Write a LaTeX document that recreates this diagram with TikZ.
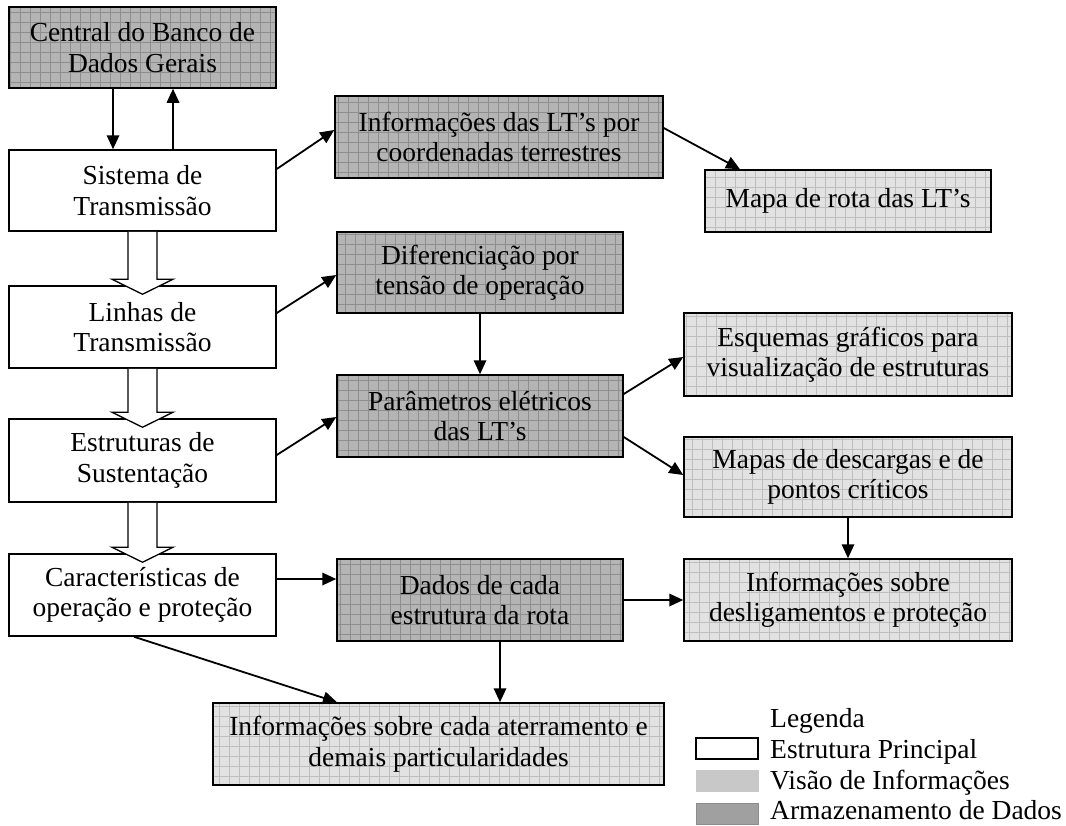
\documentclass[tikz,border=0pt]{standalone}
\usepackage{fontspec}
\setmainfont{Liberation Serif}
\usetikzlibrary{arrows.meta,calc}
\definecolor{darkbase}{HTML}{B4B4B4}
\definecolor{darkgrid}{HTML}{8E8E8E}
\definecolor{lightbase}{HTML}{E2E2E2}
\definecolor{lightgrid}{HTML}{BEBEBE}
\definecolor{legvis}{HTML}{C8C8C8}
\definecolor{legarm}{HTML}{A0A0A0}
\definecolor{legarmb}{HTML}{8C8C8C}
\begin{document}
\begin{tikzpicture}[x=1pt,y=-1pt,
  every node/.style={font=\fontsize{27.5}{30.5}\selectfont},
  basebox/.style={draw=black,line width=1.5pt,inner sep=0pt,align=center,anchor=center},
  mainbox/.style={basebox,fill=white},
  storebox/.style={basebox,fill=darkbase,
    path picture={\draw[darkgrid,line width=0.5pt] (path picture bounding box.south west) grid[step=10pt] (path picture bounding box.north east);}},
  viewbox/.style={basebox,fill=lightbase,
    path picture={\draw[lightgrid,line width=0.5pt] (path picture bounding box.south west) grid[step=10pt] (path picture bounding box.north east);}},
  arr/.style={line width=1.8pt,-{Triangle[length=14pt,width=12.5pt]}},
  hollow/.style={draw=black,line width=1.3pt,fill=white,line join=miter},
  legtext/.style={anchor=base west,inner sep=0pt}
]
\useasboundingbox (0,0) rectangle (1066,825);

% left column
\node[storebox,minimum width=267pt,minimum height=81pt] (cen) at (142.5,47.5) {Central do Banco de\\Dados Gerais};
\node[mainbox,minimum width=267pt,minimum height=81pt] (sis) at (142.5,190.5) {Sistema de\\Transmissão};
\node[mainbox,minimum width=267pt,minimum height=82pt] (lin) at (142.5,327) {Linhas de\\Transmissão};
\node[mainbox,minimum width=267pt,minimum height=83pt] (est) at (142.5,460.5) {Estruturas de\\Sustentação};
\node[mainbox,minimum width=267pt,minimum height=82pt] (car) at (142.5,595) {Características de\\operação e proteção};

% middle column
\node[storebox,minimum width=328pt,minimum height=82pt] (info) at (499,137) {Informações das LT’s por\\coordenadas terrestres};
\node[storebox,minimum width=286pt,minimum height=81pt] (dif) at (480,272.5) {Diferenciação por\\tensão de operação};
\node[storebox,minimum width=286pt,minimum height=82pt] (par) at (480,416) {Parâmetros elétricos\\das LT’s};
\node[storebox,minimum width=286pt,minimum height=82pt] (dad) at (480,600) {Dados de cada\\estrutura da rota};
\node[viewbox,minimum width=451pt,minimum height=82pt] (ate) at (438.5,744) {Informações sobre cada aterramento e\\demais particularidades};

% right column
\node[viewbox,minimum width=286pt,minimum height=62pt] (mapa) at (848,201) {Mapa de rota das LT’s};
\node[viewbox,minimum width=328pt,minimum height=83pt] (esq) at (848,354.5) {Esquemas gráficos para\\visualização de estruturas};
\node[viewbox,minimum width=328pt,minimum height=80pt] (mapas) at (848,477) {Mapas de descargas e de\\pontos críticos};
\node[viewbox,minimum width=328pt,minimum height=82pt] (des) at (848,600) {Informações sobre\\desligamentos e proteção};

% hollow arrows between main boxes
\foreach \a/\b in {sis/lin,lin/est,est/car}{
  \draw[hollow] ($(\a.south)+(-14.5,0)$) -- ($(\b.north)+(-14.5,-6)$) -- ($(\b.north)+(-30.5,-6)$)
     -- ($(\b.north)+(0,9)$) -- ($(\b.north)+(30.5,-6)$) -- ($(\b.north)+(14.5,-6)$)
     -- ($(\a.south)+(14.5,0)$);
}

% connectors
\draw[arr] ($(cen.south)+(-29.5,0)$) -- ($(sis.north)+(-29.5,0)$);
\draw[arr] ($(sis.north)+(30.5,0)$) -- ($(cen.south)+(30.5,0)$);
\draw[arr] ($(sis.east)+(0,-21.5)$) -- ($(info.west)+(0,-7)$);
\draw[arr] ($(info.east)+(0,-9)$) -- ($(mapa.north)+(-108,0)$);
\draw[arr] ($(lin.east)+(0,-14)$) -- ($(dif.west)+(0,2.5)$);
\draw[arr] ($(est.east)+(0,-5.5)$) -- ($(par.west)+(0,1)$);
\draw[arr] (dif.south) -- (par.north);
\draw[arr] ($(par.east)+(0,-22)$) -- ($(esq.west)+(0,2.5)$);
\draw[arr] ($(par.east)+(0,21)$) -- ($(mapas.west)+(0,-2)$);
\draw[arr] (mapas.south) -- (des.north);
\draw[arr] (dad.east) -- (des.west);
\draw[arr] ($(car.east)+(0,-16)$) -- ($(dad.west)+(0,-21)$);
\draw[arr] ($(car.south)+(-8.5,0)$) -- ($(ate.north)+(-101.5,0)$);
\draw[arr] ($(dad.south)+(20,0)$) -- ($(ate.north)+(61.5,0)$);

% legend
\node[legtext] (legt) at (770,727.5) {Legenda};
\node[draw=black,line width=1.3pt,fill=white,minimum width=62pt,minimum height=21pt,inner sep=0pt] (leg1) at (727,748.5) {};
\node[fill=legvis,minimum width=63pt,minimum height=22pt,inner sep=0pt] (leg2) at (727,781) {};
\node[draw=legarmb,line width=0.8pt,fill=legarm,minimum width=62pt,minimum height=21pt,inner sep=0pt] (leg3) at (727,813.5) {};
\node[legtext] (l1t) at (770,758) {Estrutura Principal};
\node[legtext] (l2t) at (770,789) {Visão de Informações};
\node[legtext] (l3t) at (770,819.5) {Armazenamento de Dados};
\end{tikzpicture}
\end{document}
